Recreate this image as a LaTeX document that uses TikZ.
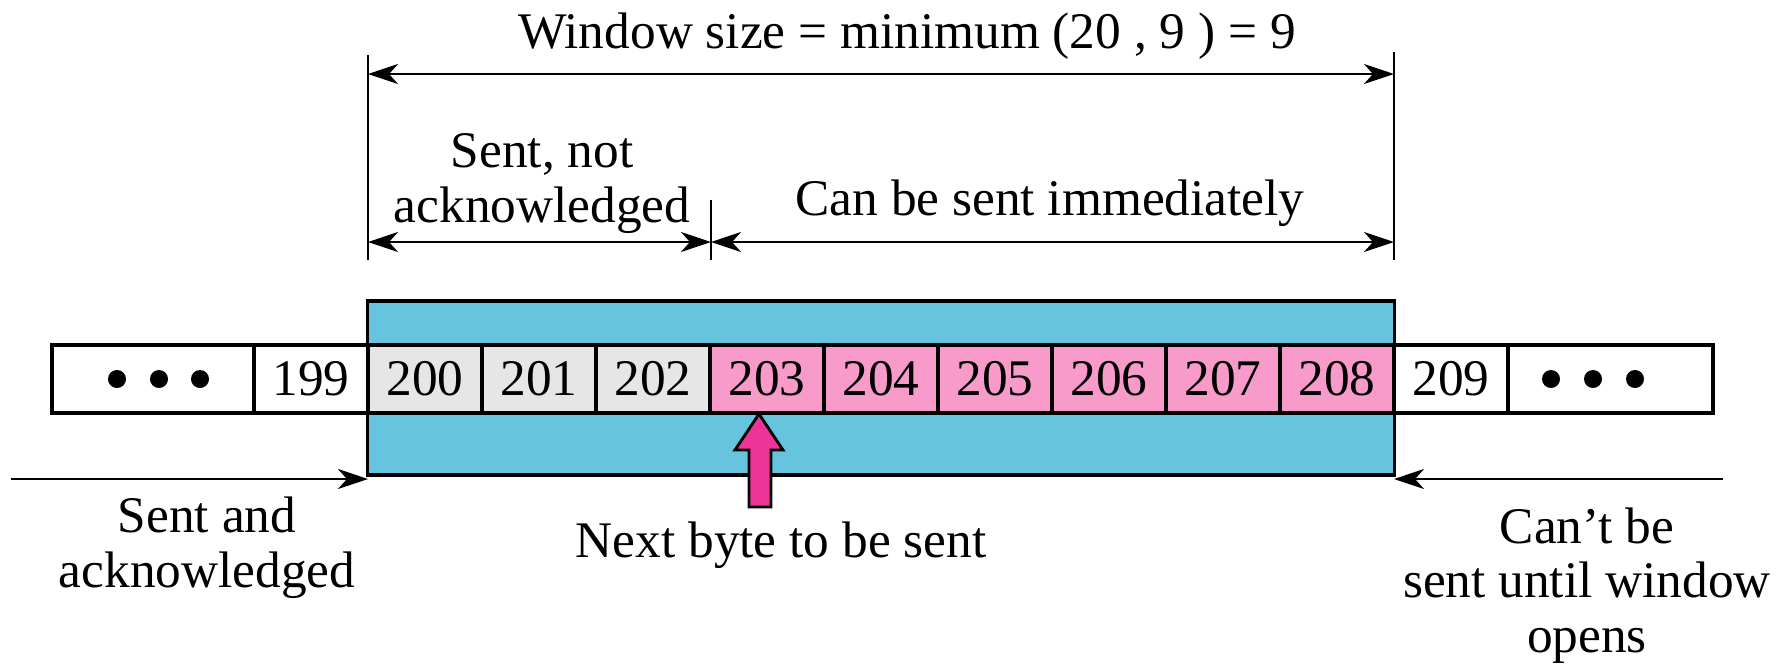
\documentclass[tikz,border=0pt]{standalone}
\usepackage{fontspec}
\setmainfont{Liberation Serif}
\usetikzlibrary{arrows.meta}
\definecolor{winblue}{RGB}{102,196,222}
\definecolor{sentgray}{RGB}{230,230,230}
\definecolor{cellpink}{RGB}{248,154,202}
\definecolor{arrowpink}{RGB}{238,51,153}
\begin{document}
\begin{tikzpicture}[x=0.01cm,y=-0.01cm,
  >={Stealth[length=3mm,width=2mm,inset=0.9mm]},
  every node/.style={font=\fontsize{14.6}{15.4}\selectfont},
  cellbox/.style={draw, line width=0.9pt, minimum height=0.68cm, inner sep=0pt, anchor=center},
  numcell/.style={cellbox, minimum width=1.14cm},
  graycell/.style={numcell, fill=sentgray},
  pinkcell/.style={numcell, fill=cellpink},
  whitecell/.style={numcell, fill=white},
  dimline/.style={line width=0.8pt},
  dimarrow/.style={line width=0.8pt, <->},
  sidearrow/.style={line width=0.8pt, ->},
  label/.style={align=center, anchor=base}
]
\useasboundingbox (0,0) rectangle (1784,663);

% window
\node[draw, fill=winblue, line width=0.9pt, minimum width=10.26cm, minimum height=1.74cm, inner sep=0pt] (win) at (881,388) {};

% row of cells
\node[cellbox, fill=white, minimum width=2.02cm] (dotsL) at (153,379) {};
\node[whitecell] (c199) at (311,379) {199};
\node[graycell] (c200) at (425,379) {200};
\node[graycell] (c201) at (539,379) {201};
\node[graycell] (c202) at (653,379) {202};
\node[pinkcell] (c203) at (767,379) {203};
\node[pinkcell] (c204) at (881,379) {204};
\node[pinkcell] (c205) at (995,379) {205};
\node[pinkcell] (c206) at (1109,379) {206};
\node[pinkcell] (c207) at (1223,379) {207};
\node[pinkcell] (c208) at (1337,379) {208};
\node[whitecell] (c209) at (1451,379) {209};
\node[cellbox, fill=white, minimum width=2.05cm] (dotsR) at (1610.5,379) {};

\foreach \x in {117,159,200,1551,1593,1635}
  \fill (\x,379) circle (0.09cm);

% dimension lines
\coordinate (vlTop) at (368,55);
\coordinate (vlBot) at (368,260);
\coordinate (vrTop) at (1394,52);
\coordinate (vrBot) at (1394,260);
\coordinate (tkTop) at (711,200);
\coordinate (tkBot) at (711,260);
\draw[dimline] (vlTop) -- (vlBot);
\draw[dimline] (vrTop) -- (vrBot);
\draw[dimline] (tkTop) -- (tkBot);

\coordinate (wL) at (368,74);
\coordinate (wR) at (1394,74);
\coordinate (aL) at (368,242);
\coordinate (aM) at (711,242);
\coordinate (aR) at (1394,242);
\draw[dimarrow] (wL) -- (wR);
\draw[dimarrow] (aL) -- (aM);
\draw[dimarrow] (aM) -- (aR);

% side arrows
\coordinate (leftStart) at (11,479);
\coordinate (leftEnd) at (368,479);
\coordinate (rightStart) at (1723,479);
\coordinate (rightEnd) at (1394,479);
\draw[sidearrow] (leftStart) -- (leftEnd);
\draw[sidearrow] (rightStart) -- (rightEnd);

% next-byte arrow
\draw[fill=arrowpink, line width=0.8pt, line join=miter]
  (759,414) -- (783,450) -- (771,450) -- (771,507) -- (749,507) -- (749,450) -- (735,450) -- cycle;

% texts
\node[label] (title) at (907,48) {Window size = minimum (20 , 9 ) = 9};
\node[label] (sna) at (542,222) {Sent, not\\acknowledged};
\node[label] (cbs) at (1050,215) {Can be sent immediately};
\node[label] (saa) at (207,587) {Sent and\\acknowledged};
\node[label] (nbs) at (781,557) {Next byte to be sent};
\node[label] (cbw) at (1587,652) {Can’t be\\sent until window\\opens};
\end{tikzpicture}
\end{document}
